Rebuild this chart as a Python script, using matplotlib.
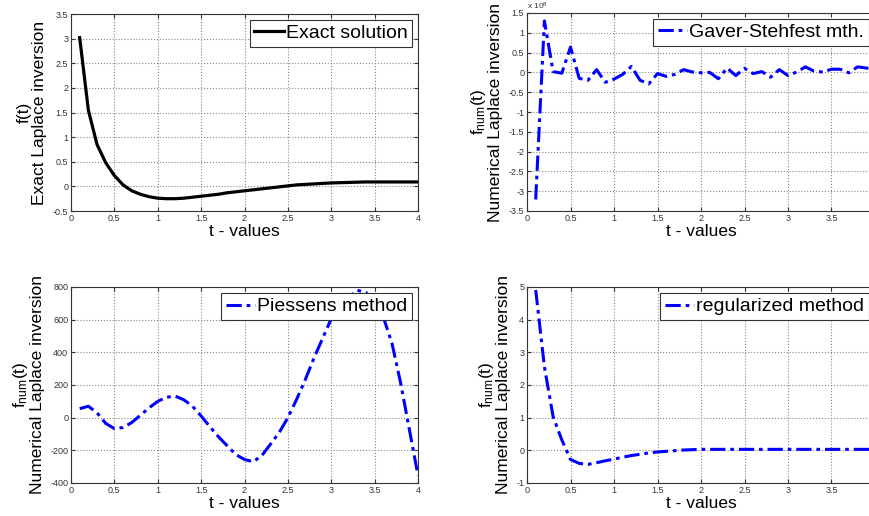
import matplotlib
matplotlib.use("Agg")
import matplotlib.pyplot as plt
from matplotlib.ticker import MultipleLocator, FixedLocator, FuncFormatter
import numpy as np

plt.rcParams['font.family'] = ['Liberation Sans', 'DejaVu Sans']
plt.rcParams['mathtext.fontset'] = 'custom'
plt.rcParams['mathtext.rm'] = 'Liberation Sans'
plt.rcParams['mathtext.it'] = 'Liberation Sans'

# time grid
t = np.round(np.arange(1, 41) * 0.1, 1)

# exact solution
f_exact = [3.02, 1.55, 0.85, 0.48, 0.22, 0.03, -0.09, -0.16, -0.21, -0.24,
           -0.25, -0.25, -0.24, -0.22, -0.20, -0.18, -0.16, -0.13, -0.11, -0.09,
           -0.07, -0.05, -0.03, -0.01, 0.01, 0.03, 0.04, 0.05, 0.06, 0.07,
           0.075, 0.08, 0.085, 0.09, 0.09, 0.09, 0.09, 0.09, 0.09, 0.09]

# Gaver-Stehfest (units of 1e8)
f_gaver = [-3.21, 1.30, 0.02, -0.02, 0.64, -0.15, -0.20, 0.07, -0.25, -0.17,
           -0.05, 0.15, -0.20, -0.29, -0.03, -0.10, -0.05, 0.07, 0.01, -0.01,
           0.0, -0.16, 0.11, -0.08, 0.10, -0.03, 0.02, -0.12, 0.07, -0.08,
           0.01, 0.14, 0.03, 0.01, 0.08, 0.08, -0.01, 0.14, 0.11, 0.09]

# Piessens method
f_piessens = [55, 70, 30, -35, -67, -60, -30, 15, 60, 100,
              125, 132, 110, 70, 10, -55, -117, -172, -226, -256,
              -270, -232, -162, -91, 0, 111, 232, 364, 485, 606,
              677, 737, 780, 766, 707, 616, 455, 212, -71, -354]

# regularized method
f_reg = [4.91, 2.56, 1.03, 0.32, -0.28, -0.40, -0.43, -0.38, -0.32, -0.27,
         -0.21, -0.16, -0.12, -0.08, -0.05, -0.03, -0.01, 0.01, 0.02, 0.03,
         0.03, 0.03, 0.03, 0.03, 0.03, 0.03, 0.03, 0.03, 0.03, 0.03,
         0.03, 0.03, 0.03, 0.03, 0.03, 0.03, 0.03, 0.03, 0.03, 0.03]

fig = plt.figure(figsize=(8.69, 5.16), dpi=100)
w, h = 869, 516


def make_axes(x0, x1, top, bottom):
    return fig.add_axes([x0 / w, 1 - bottom / h, (x1 - x0) / w, (bottom - top) / h])


ax1 = make_axes(71, 418, 14, 211)
ax2 = make_axes(527, 875, 13, 211)
ax3 = make_axes(71, 418, 287, 483)
ax4 = make_axes(527, 875, 287, 483)

fmt = FuncFormatter(lambda v, p: f"{v:g}")
dash = (0, (5, 1.6, 1.2, 1.6))
num_label = 'f$_{\\rm num}$(t)\nNumerical Laplace inversion'

ax1.plot(t, f_exact, color='black', lw=2.3, label='Exact solution')
ax1.set_ylim(-0.5, 3.5)
ax1.yaxis.set_major_locator(MultipleLocator(0.5))
ax1.set_ylabel('f(t)\nExact Laplace inversion', fontsize=12.5, linespacing=1.0)

ax2.plot(t, f_gaver, color='blue', lw=2.2, ls=dash, label='Gaver-Stehfest mth.')
ax2.set_ylim(-3.5, 1.5)
ax2.yaxis.set_major_locator(MultipleLocator(0.5))
ax2.text(0.0, 1.005, r'x 10$^{8}$', transform=ax2.transAxes, fontsize=6, color='#333333',
         va='bottom', ha='left')
ax2.set_ylabel(num_label, fontsize=12.5, linespacing=1.0)

ax3.plot(t, f_piessens, color='blue', lw=2.2, ls=dash, label='Piessens method')
ax3.set_ylim(-400, 800)
ax3.yaxis.set_major_locator(MultipleLocator(200))
ax3.set_ylabel(num_label, fontsize=12.5, linespacing=1.0)

ax4.plot(t, f_reg, color='blue', lw=2.2, ls=dash, label='regularized method')
ax4.set_ylim(-1, 5)
ax4.yaxis.set_major_locator(MultipleLocator(1))
ax4.set_ylabel(num_label, fontsize=12.5, linespacing=1.0)

for ax in (ax1, ax2, ax3, ax4):
    ax.set_xlim(0, 4)
    if ax in (ax2, ax4):
        # right column is clipped by the figure edge, ticks stop at 3.5
        ax.xaxis.set_major_locator(FixedLocator(np.arange(0, 3.6, 0.5)))
    else:
        ax.xaxis.set_major_locator(MultipleLocator(0.5))
    ax.xaxis.set_major_formatter(fmt)
    ax.yaxis.set_major_formatter(fmt)
    ax.set_xlabel('t - values', fontsize=12.5, labelpad=1)
    ax.grid(True, ls=':', color='#888888', lw=0.8)
    ax.tick_params(direction='in', labelsize=6.5, length=3, colors='#333333',
                   top=True, right=True, pad=2)
    for s in ax.spines.values():
        s.set_color('#333333')
        s.set_linewidth(0.8)
    leg = ax.legend(loc='upper right', fontsize=14, handlelength=1.5,
                    handletextpad=0.1, borderpad=0.25, borderaxespad=0.3,
                    fancybox=False, framealpha=1)
    leg.get_frame().set_edgecolor('#333333')
    leg.get_frame().set_linewidth(0.8)

fig.savefig('out.png', dpi=100)
